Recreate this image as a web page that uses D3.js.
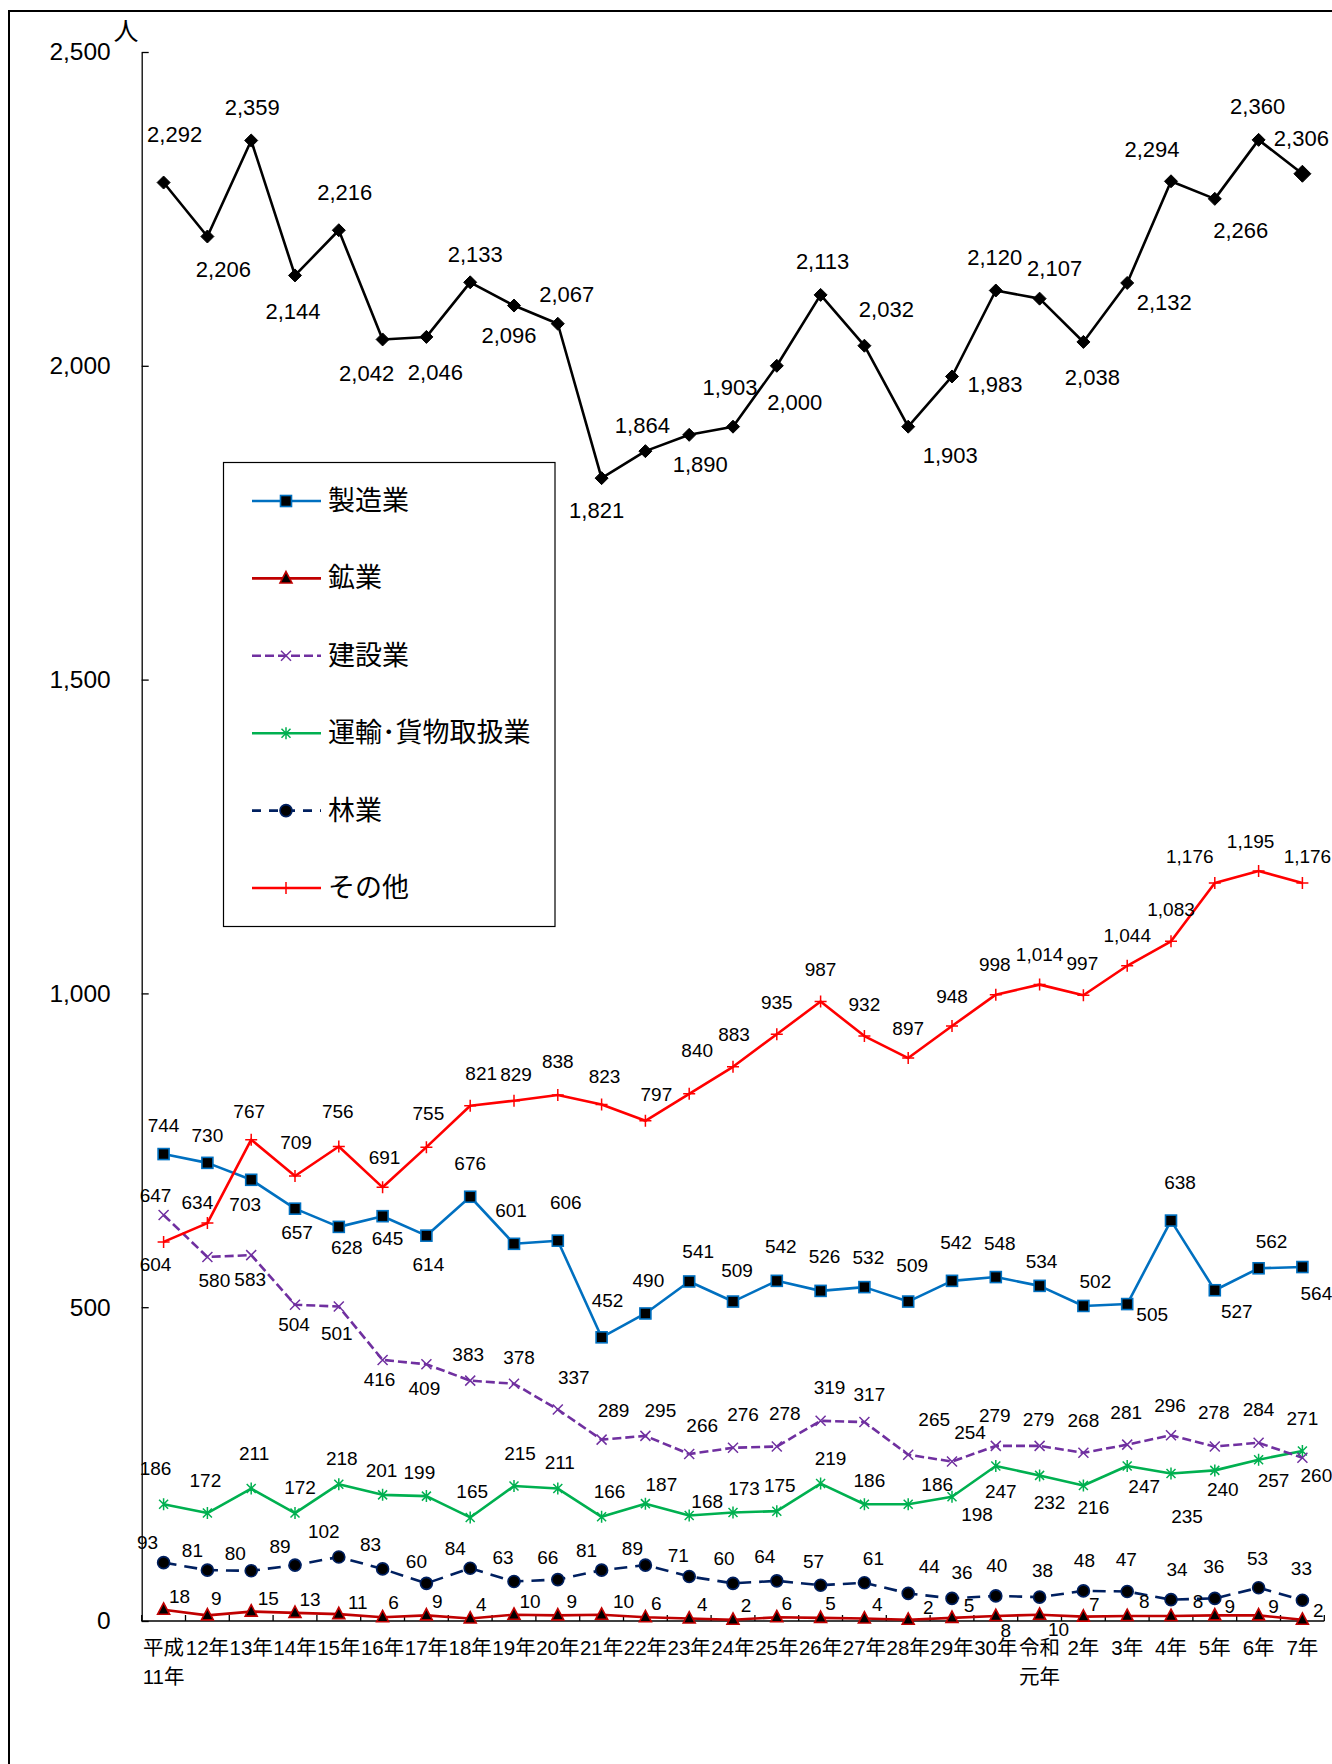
<!DOCTYPE html>
<html><head><meta charset="utf-8">
<script src="https://cdn.jsdelivr.net/npm/d3@7"></script>
<style>
html,body{margin:0;padding:0;background:#fff;}
text{font-family:"Liberation Sans",Arial,"Noto Sans CJK JP",sans-serif;fill:#000;}
.cjk{font-family:"Liberation Sans","Noto Sans CJK JP",sans-serif;}
</style></head>
<body>
<svg id="chart" width="1332" height="1764"></svg>
<script>
// ---- data ----
const categories = ["平成\n11年","12年","13年","14年","15年","16年","17年","18年","19年","20年","21年","22年","23年","24年","25年","26年","27年","28年","29年","30年","令和\n元年","2年","3年","4年","5年","6年","7年"];
const total        = [2292,2206,2359,2144,2216,2042,2046,2133,2096,2067,1821,1864,1890,1903,2000,2113,2032,1903,1983,2120,2107,2038,2132,2294,2266,2360,2306];
const manufacturing= [744,730,703,657,628,645,614,676,601,606,452,490,541,509,542,526,532,509,542,548,534,502,505,638,527,562,564];
const mining       = [18,9,15,13,11,6,9,4,10,9,10,6,4,2,6,5,4,2,5,8,10,7,8,8,9,9,2];
const construction = [647,580,583,504,501,416,409,383,378,337,289,295,266,276,278,319,317,265,254,279,279,268,281,296,278,284,260];
const transport    = [186,172,211,172,218,201,199,165,215,211,166,187,168,173,175,219,186,186,198,247,232,216,247,235,240,257,271];
const forestry     = [93,81,80,89,102,83,60,84,63,66,81,89,71,60,64,57,61,44,36,40,38,48,47,34,36,53,33];
const other        = [604,634,767,709,756,691,755,821,829,838,823,797,840,883,935,987,932,897,948,998,1014,997,1044,1083,1176,1195,1176];
const yTicks = [0,500,1000,1500,2000,2500];
const yUnit = "人";
const legendNames = ["製造業","鉱業","建設業","運輸･貨物取扱業","林業","その他"];

// ---- label placement (offsets from point, px) ----
const offTotal = [[11,-48],[16,33],[1,-33],[-2,36],[6,-38],[-16,34],[9,36],[5,-28],[-5,30],[9,-29],[-5,32],[-3,-26],[11,30],[-3,-39],[18,37],[2,-33],[22,-36],[42,29],[43,8],[-1,-33],[15,-30],[9,36],[37,20],[-19,-32],[26,32],[-1,-33],[-1,-35]];
const offManu = [[0,-29],[0,-27],[-6,25],[2,24],[8,21],[5,22],[2,29],[0,-33],[-3,-33],[8,-38],[6,-37],[3,-33],[9,-30],[4,-31],[4,-34],[4,-34],[4,-30],[4,-36],[4,-38],[4,-34],[2,-24],[12,-24],[25,10],[9,-38],[22,21],[13,-27],[14,26]];
const offMining = [[16,-13],[9,-17],[17,-13],[15,-13],[19,-12],[11,-15],[11,-14],[11,-14],[16,-13],[14,-14],[22,-13],[11,-14],[13,-14],[13,-14],[10,-14],[10,-14],[13,-14],[20,-12],[17,-12],[10,15],[19,15],[11,-12],[17,-14],[27,-14],[15,-9],[15,-9],[16,-9]];
const offCons = [[-8,-19],[7,24],[-1,24],[-1,20],[-2,27],[-3,20],[-2,24],[-2,-26],[5,-26],[16,-32],[12,-29],[15,-25],[13,-29],[10,-33],[8,-33],[9,-33],[5,-28],[26,-35],[18,-29],[-1,-30],[-1,-26],[0,-32],[-1,-32],[-1,-30],[-1,-34],[0,-33],[14,18]];
const offTrans = [[-8,-36],[-2,-33],[3,-35],[5,-26],[3,-26],[-1,-24],[-7,-24],[2,-26],[6,-33],[2,-26],[8,-25],[16,-19],[18,-14],[11,-24],[3,-26],[10,-25],[5,-24],[29,-20],[25,18],[5,26],[10,27],[10,22],[17,21],[16,43],[8,19],[15,21],[0,-32]];
const offForest = [[-16,-20],[-15,-20],[-16,-17],[-15,-19],[-15,-25],[-12,-24],[-10,-22],[-15,-20],[-11,-24],[-10,-22],[-15,-20],[-13,-17],[-11,-21],[-9,-25],[-12,-24],[-7,-24],[9,-24],[21,-27],[10,-26],[1,-30],[3,-27],[1,-30],[-1,-32],[6,-30],[-1,-32],[-1,-29],[-1,-32]];
const offOther = [[-8,23],[-10,-21],[-2,-28],[1,-34],[-1,-35],[2,-30],[2,-34],[11,-32],[2,-26],[0,-34],[3,-28],[11,-26],[8,-43],[1,-32],[0,-32],[0,-32],[0,-32],[0,-30],[0,-30],[-1,-30],[0,-30],[-1,-32],[0,-30],[0,-32],[-25,-26],[-8,-30],[5,-26]];

// ---- setup ----
const svg = d3.select("#chart");
const x = d3.scaleBand().domain(categories).range([141.7, 1324.3]).padding(0);
const y = d3.scaleLinear().domain([0, 2500]).range([1621, 52]);
const xc = i => x(categories[i]) + x.bandwidth() / 2;
const fmt = d3.format(",");

// frame
svg.append("rect").attr("x", 9).attr("y", 11).attr("width", 1340).attr("height", 1780)
  .attr("fill", "none").attr("stroke", "#000").attr("stroke-width", 2);

// y axis
const yAxis = svg.append("g").attr("transform", "translate(141.7,0)")
  .call(d3.axisLeft(y).tickValues(yTicks).tickFormat(fmt).tickSizeInner(-7).tickSizeOuter(0).tickPadding(31));
yAxis.select(".domain").attr("stroke", "#000").attr("stroke-width", 1.3);
yAxis.selectAll(".tick line").attr("stroke", "#000").attr("stroke-width", 1.3);
yAxis.selectAll(".tick text").attr("font-size", 24.5).attr("font-family", "Liberation Sans, Arial, sans-serif").attr("fill", "#000");
svg.append("text").attr("class", "cjk").attr("x", 126).attr("y", 31).attr("text-anchor", "middle")
  .attr("dominant-baseline", "central").attr("font-size", 25).text(yUnit);

// x axis
const xAxisY = y(0);
const xa = svg.append("g");
xa.append("line").attr("x1", x.range()[0]).attr("x2", x.range()[1]).attr("y1", xAxisY).attr("y2", xAxisY)
  .attr("stroke", "#000").attr("stroke-width", 1.3);
d3.range(categories.length + 1).forEach(i => {
  const xx = x.range()[0] + i * x.step();
  xa.append("line").attr("x1", xx).attr("x2", xx).attr("y1", xAxisY).attr("y2", xAxisY - 6)
    .attr("stroke", "#000").attr("stroke-width", 1.3);
});
categories.forEach((c, i) => {
  const lines = c.split("\n");
  const t = xa.append("text").attr("class", "cjk").attr("x", xc(i)).attr("y", 1655)
    .attr("text-anchor", "middle").attr("font-size", 20.5);
  lines.forEach((ln, k) => t.append("tspan").attr("x", xc(i)).attr("dy", k === 0 ? 0 : 29).text(ln));
});

// ---- marker makers ----
function mk(g, type, cx, cy, stroke, size) {
  const s = size;
  if (type === "square") {
    g.append("rect").attr("x", cx - s/2).attr("y", cy - s/2).attr("width", s).attr("height", s)
      .attr("fill", "#000").attr("stroke", stroke).attr("stroke-width", 1.6);
  } else if (type === "triangle") {
    const h = s * 0.95;
    g.append("path").attr("d", `M${cx},${cy - h*0.6}L${cx + s/2},${cy + h*0.4}L${cx - s/2},${cy + h*0.4}Z`)
      .attr("fill", "#000").attr("stroke", stroke).attr("stroke-width", 1.6);
  } else if (type === "diamond") {
    g.append("path").attr("d", `M${cx},${cy - s/2}L${cx + s/2},${cy}L${cx},${cy + s/2}L${cx - s/2},${cy}Z`)
      .attr("fill", "#000").attr("stroke", "#000").attr("stroke-width", 1);
  } else if (type === "circle") {
    g.append("circle").attr("cx", cx).attr("cy", cy).attr("r", s/2)
      .attr("fill", "#000").attr("stroke", stroke).attr("stroke-width", 1.6);
  } else if (type === "x") {
    const r = s/2;
    g.append("path").attr("d", `M${cx-r},${cy-r}L${cx+r},${cy+r}M${cx-r},${cy+r}L${cx+r},${cy-r}`)
      .attr("stroke", stroke).attr("stroke-width", 1.5).attr("fill", "none");
  } else if (type === "asterisk") {
    const r = s/2, d = r * 0.75;
    g.append("path").attr("d", `M${cx-d},${cy-d}L${cx+d},${cy+d}M${cx-d},${cy+d}L${cx+d},${cy-d}M${cx},${cy-r}L${cx},${cy+r}`)
      .attr("stroke", stroke).attr("stroke-width", 1.5).attr("fill", "none");
  } else if (type === "plus") {
    const r = s/2;
    g.append("path").attr("d", `M${cx-r},${cy}L${cx+r},${cy}M${cx},${cy-r}L${cx},${cy+r}`)
      .attr("stroke", stroke).attr("stroke-width", 1.5).attr("fill", "none");
  }
}

const series = [
  { name: legendNames[4], values: forestry, color: "#002060", dash: "13,8", marker: "circle", size: 12, off: offForest, fs: 19 },
  { name: legendNames[1], values: mining, color: "#C00000", dash: null, marker: "triangle", size: 12, off: offMining, fs: 19 },
  { name: legendNames[3], values: transport, color: "#00B050", dash: null, marker: "asterisk", size: 12, off: offTrans, fs: 19 },
  { name: legendNames[2], values: construction, color: "#7030A0", dash: "9,4", marker: "x", size: 10, off: offCons, fs: 19 },
  { name: legendNames[0], values: manufacturing, color: "#0070C0", dash: null, marker: "square", size: 11, off: offManu, fs: 19 },
  { name: legendNames[5], values: other, color: "#FF0000", dash: null, marker: "plus", size: 12, off: offOther, fs: 19 },
  { name: "総数", values: total, color: "#000000", dash: null, marker: "diamond", size: 13, off: offTotal, fs: 22 }
];

const line = d3.line().x((d, i) => xc(i)).y(d => y(d));
const plot = svg.append("g");
series.forEach(s => {
  plot.append("path").datum(s.values).attr("d", line).attr("fill", "none")
    .attr("stroke", s.color).attr("stroke-width", 2.6).attr("stroke-linejoin", "round")
    .attr("stroke-dasharray", s.dash);
});
series.forEach(s => {
  const g = plot.append("g");
  s.values.forEach((v, i) => {
    const big = (s.marker === "diamond" && i === s.values.length - 1);
    mk(g, s.marker, xc(i), y(v), s.color, big ? 17 : s.size);
  });
});
const labels = svg.append("g");
series.forEach(s => {
  s.values.forEach((v, i) => {
    labels.append("text").attr("x", xc(i) + s.off[i][0]).attr("y", y(v) + s.off[i][1])
      .attr("text-anchor", "middle").attr("dominant-baseline", "central")
      .attr("font-size", s.fs).text(fmt(v));
  });
});

// ---- legend ----
const lg = svg.append("g");
lg.append("rect").attr("x", 223.5).attr("y", 462.5).attr("width", 331.5).attr("height", 464)
  .attr("fill", "#fff").attr("stroke", "#000").attr("stroke-width", 1.2);
const legendOrder = [
  { name: legendNames[0], color: "#0070C0", dash: null, marker: "square", size: 11 },
  { name: legendNames[1], color: "#C00000", dash: null, marker: "triangle", size: 12 },
  { name: legendNames[2], color: "#7030A0", dash: "9,4", marker: "x", size: 10 },
  { name: legendNames[3], color: "#00B050", dash: null, marker: "asterisk", size: 12 },
  { name: legendNames[4], color: "#002060", dash: "9,8", marker: "circle", size: 12 },
  { name: legendNames[5], color: "#FF0000", dash: null, marker: "plus", size: 12 }
];
const legendY = d3.scalePoint().domain(legendOrder.map(d => d.name)).range([501, 888]);
legendOrder.forEach(d => {
  const ly = legendY(d.name);
  lg.append("line").attr("x1", 252).attr("x2", 321).attr("y1", ly).attr("y2", ly)
    .attr("stroke", d.color).attr("stroke-width", 2.6).attr("stroke-dasharray", d.dash);
  mk(lg, d.marker, 286, ly, d.color, d.size);
  lg.append("text").attr("class", "cjk").attr("x", 328).attr("y", ly).attr("dominant-baseline", "central")
    .attr("font-size", 27).text(d.name);
});
</script>
</body></html>
